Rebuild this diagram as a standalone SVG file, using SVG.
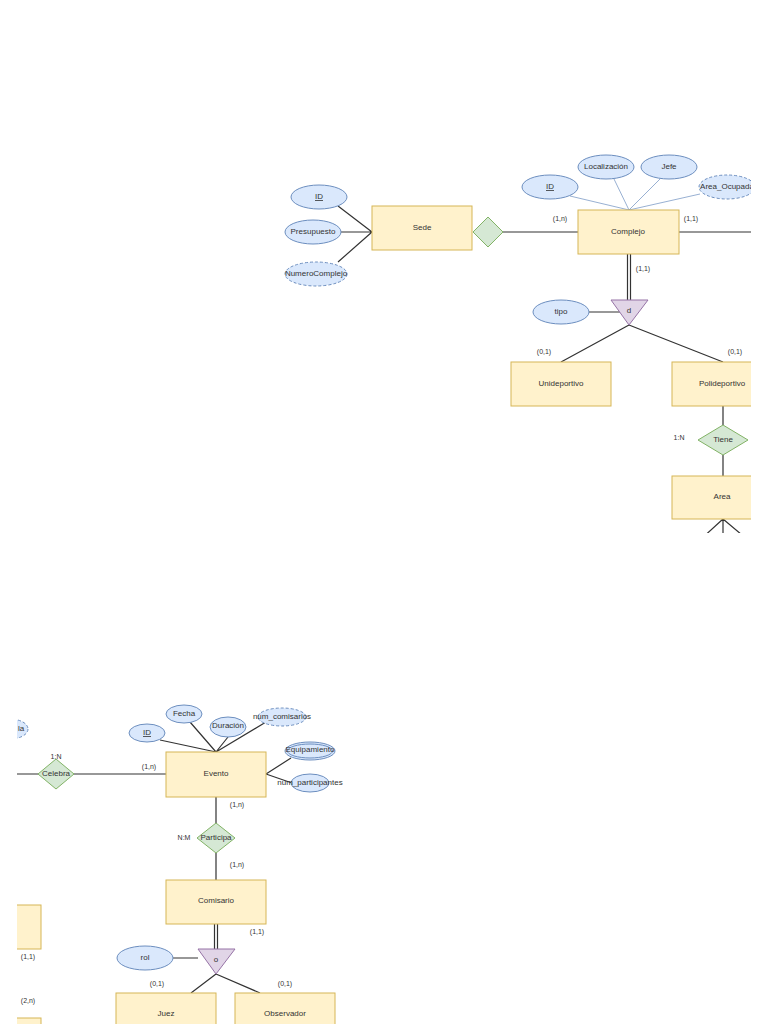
<svg xmlns="http://www.w3.org/2000/svg" width="768" height="1024" viewBox="0 0 768 1024">
<style>
text{font-family:"Liberation Sans",Arial,sans-serif;font-size:8px;fill:#333;text-anchor:middle;dominant-baseline:middle}
.e{fill:#fff2cc;stroke:#d6b656;stroke-width:1}
.a{fill:#dae8fc;stroke:#6c8ebf;stroke-width:1}
.d{stroke-dasharray:3 2}
.r{fill:#d5e8d4;stroke:#82b366;stroke-width:1}
.t{fill:#e1d5e7;stroke:#9673a6;stroke-width:1}
.l{stroke:#333;stroke-width:1.2;fill:none}
.b{stroke:#6c8ebf;stroke-width:0.7;fill:none}
.lb{font-size:7px}
</style>
<defs>
<clipPath id="c1"><rect x="0" y="0" width="751" height="533"/></clipPath>
<clipPath id="c2"><rect x="17" y="600" width="751" height="424"/></clipPath>
</defs>
<rect width="768" height="1024" fill="#fff"/>
<g clip-path="url(#c1)">
<g id="connectors-top">
<path class="l" d="M338 206L372 232M341 232H372M338 262L372 232M503 232H578M679 232H760M589 312H620M629 325L561 362M629 325L723 362M723 406V425M723 455V476M723 519L700 540M723 519V540M723 519L748 540"/>
<path class="b" d="M570 196L629 210M614 179L629 210M660 179L629 210M700 194L629 210"/>
<path class="l" d="M627.5 254V300M630.5 254V300"/>
<text class="lb" x="560" y="219">(1,n)</text><text class="lb" x="691" y="219">(1,1)</text>
<text class="lb" x="643" y="269">(1,1)</text><text class="lb" x="544" y="352">(0,1)</text>
<text class="lb" x="735" y="352">(0,1)</text><text class="lb" x="679" y="438">1:N</text>
</g>
<g id="sede"><rect class="e" x="372" y="206" width="100" height="44"/><text x="422" y="228">Sede</text></g>
<g id="sede-id"><ellipse class="a" cx="319" cy="197" rx="28" ry="12"/><text x="319" y="197" text-decoration="underline">ID</text></g>
<g id="presupuesto"><ellipse class="a" cx="313" cy="232" rx="28" ry="12"/><text x="313" y="232">Presupuesto</text></g>
<g id="numerocomplejo"><ellipse class="a d" cx="316" cy="274" rx="31" ry="12"/><text x="316" y="274" font-size="7.5">NumeroComplejo</text></g>
<g id="rel-sede"><path class="r" d="M488 217L503 232L488 247L473 232Z"/></g>
<g id="complejo"><rect class="e" x="578" y="210" width="101" height="44"/><text x="628" y="232">Complejo</text></g>
<g id="comp-id"><ellipse class="a" cx="550" cy="187" rx="28" ry="12"/><text x="550" y="187" text-decoration="underline">ID</text></g>
<g id="localizacion"><ellipse class="a" cx="606" cy="167" rx="28" ry="12"/><text x="606" y="167">Localización</text></g>
<g id="jefe"><ellipse class="a" cx="669" cy="167" rx="28" ry="12"/><text x="669" y="167">Jefe</text></g>
<g id="area-ocupada"><ellipse class="a d" cx="727" cy="187" rx="28" ry="12"/><text x="727" y="187">Area_Ocupada</text></g>
<g id="disj-d"><path class="t" d="M611 300H648L629 325Z"/><text x="629" y="311">d</text></g>
<g id="tipo"><ellipse class="a" cx="561" cy="312" rx="28" ry="12"/><text x="561" y="312">tipo</text></g>
<g id="unideportivo"><rect class="e" x="511" y="362" width="100" height="44"/><text x="561" y="384">Unideportivo</text></g>
<g id="polideportivo"><rect class="e" x="672" y="362" width="100" height="44"/><text x="722" y="384">Polideportivo</text></g>
<g id="tiene"><path class="r" d="M723 425L748 440L723 455L698 440Z"/><text x="723" y="440">Tiene</text></g>
<g id="area"><rect class="e" x="672" y="476" width="100" height="43"/><text x="722" y="497">Area</text></g>
</g>
<g clip-path="url(#c2)">
<g id="connectors-bottom">
<path class="l" d="M0 774H40M72 774H166M216 752L160 740M216 752L190 722M216 752L228 737M216 752L266 722M266 774L291 758M266 774L292 783M216 797V824M216 853V880M173 958H198M216 974L191 993M216 974L260 993"/>
<path class="l" d="M214.5 924V949M217.5 924V949"/>
<text class="lb" x="56" y="757">1:N</text><text class="lb" x="149" y="767">(1,n)</text>
<text class="lb" x="237" y="805">(1,n)</text><text class="lb" x="184" y="838">N:M</text>
<text class="lb" x="237" y="865">(1,n)</text><text class="lb" x="257" y="932">(1,1)</text>
<text class="lb" x="157" y="984">(0,1)</text><text class="lb" x="285" y="984">(0,1)</text>
<text class="lb" x="28" y="957">(1,1)</text><text class="lb" x="28" y="1001">(2,n)</text>
</g>
<g id="left-attr"><ellipse class="a d" cx="10" cy="729" rx="18" ry="10"/><text x="21" y="729">la</text></g>
<g id="left-ent1"><rect class="e" x="-60" y="905" width="101" height="44"/></g>
<g id="left-ent2"><rect class="e" x="-60" y="1018" width="101" height="44"/></g>
<g id="celebra"><path class="r" d="M56 759L74 774L56 789L38 774Z"/><text x="56" y="774">Celebra</text></g>
<g id="evento"><rect class="e" x="166" y="752" width="100" height="45"/><text x="216" y="774">Evento</text></g>
<g id="ev-id"><ellipse class="a" cx="147" cy="733" rx="18" ry="9"/><text x="147" y="733" text-decoration="underline">ID</text></g>
<g id="fecha"><ellipse class="a" cx="184" cy="714" rx="18" ry="9"/><text x="184" y="714">Fecha</text></g>
<g id="duracion"><ellipse class="a" cx="228" cy="727" rx="18" ry="10"/><text x="228" y="726">Duración</text></g>
<g id="num-comisarios"><ellipse class="a d" cx="282" cy="717" rx="24" ry="9"/><text x="282" y="717">num_comisarios</text></g>
<g id="equipamiento"><ellipse class="a" cx="310" cy="751" rx="25" ry="9"/><ellipse class="a" cx="310" cy="751" rx="22.5" ry="7"/><text x="310" y="750">Equipamiento</text></g>
<g id="num-participantes"><ellipse class="a" cx="310" cy="783" rx="19" ry="9"/><text x="310" y="783" font-size="4">num_participantes</text></g>
<g id="participa"><path class="r" d="M216 823L235 838L216 853L197 838Z"/><text x="216" y="838">Participa</text></g>
<g id="comisario"><rect class="e" x="166" y="880" width="100" height="44"/><text x="216" y="901">Comisario</text></g>
<g id="disj-o"><path class="t" d="M198 949H235L216 974Z"/><text x="216" y="960">o</text></g>
<g id="rol"><ellipse class="a" cx="145" cy="958" rx="28" ry="12"/><text x="145" y="958">rol</text></g>
<g id="juez"><rect class="e" x="116" y="993" width="100" height="44"/><text x="166" y="1014">Juez</text></g>
<g id="observador"><rect class="e" x="235" y="993" width="100" height="44"/><text x="285" y="1014">Observador</text></g>
</g>
</svg>
